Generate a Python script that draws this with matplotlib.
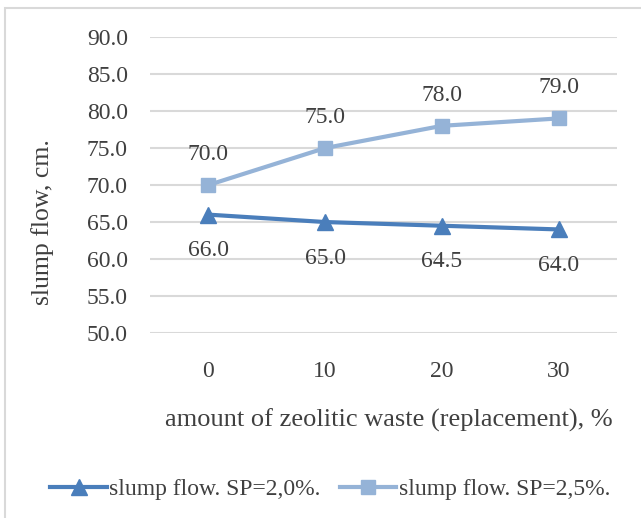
import matplotlib.pyplot as plt
from matplotlib.patches import Rectangle

# replacement level of zeolitic waste, %
replacement = ['0', '10', '20', '30']
flow_sp20 = [66.0, 65.0, 64.5, 64.0]
flow_sp25 = [70.0, 75.0, 78.0, 79.0]
series_names = ['slump flow. SP=2,0%.', 'slump flow. SP=2,5%.']

plt.rcParams['font.family'] = ['Liberation Serif', 'DejaVu Serif']
text_col = '#404040'
dark_blue = '#4a7ebb'
light_blue = '#95b3d7'
fs = 17

fig = plt.figure(figsize=(6.41, 5.18), dpi=100)
ax = fig.add_axes([0.234, 0.357, 0.729, 0.5716])

# chart frame, cut by the right and bottom edges
fig.patches.append(Rectangle((5 / 641, -0.05), 1.0, 1 - 8 / 518 + 0.05,
                             transform=fig.transFigure, fill=False,
                             edgecolor='#d9d9d9', linewidth=1.5))

x = range(len(replacement))
ax.plot(x, flow_sp20, color=dark_blue, lw=3, marker='^', ms=11,
        label=series_names[0], zorder=3)
ax.plot(x, flow_sp25, color=light_blue, lw=3, marker='s', ms=10,
        label=series_names[1], zorder=3)

for xi, v in zip(x, flow_sp20):
    ax.annotate(f'{v:.1f}', (xi, v), xytext=(0, -26), textcoords='offset points',
                ha='center', va='center', fontsize=fs, color=text_col)
for xi, v in zip(x, flow_sp25):
    ax.annotate(f'{v:.1f}', (xi, v), xytext=(0, 22), textcoords='offset points',
                ha='center', va='center', fontsize=fs, color=text_col)

ax.set_xlim(-0.5, 3.5)
ax.set_ylim(50, 90)
ax.set_yticks(range(50, 91, 5))
ax.set_yticklabels([f'{t:.1f}' for t in range(50, 91, 5)])
ax.set_xticks(list(x))
ax.set_xticklabels(replacement)
ax.tick_params(length=0, labelsize=fs, labelcolor=text_col)
ax.tick_params(axis='x', pad=20)
ax.tick_params(axis='y', pad=16)
ax.grid(axis='y', color='#d9d9d9', lw=1.5)
ax.set_axisbelow(True)
for s in ax.spines.values():
    s.set_visible(False)

# axis titles
fig.text(389 / 641, 1 - 420 / 518, 'amount of zeolitic waste (replacement), %',
         ha='center', va='center', fontsize=19, color=text_col)
fig.text(43 / 641, 1 - 222 / 518, 'slump flow, cm.', rotation=90,
         ha='center', va='center', fontsize=18.5, color=text_col)

fig.legend(loc='center', bbox_to_anchor=(0.515, 1 - 489 / 518), ncol=2,
           frameon=False, fontsize=fs, labelcolor=text_col,
           handlelength=2.4, handletextpad=0.1, columnspacing=0.8)

fig.savefig('out.png', dpi=100)
